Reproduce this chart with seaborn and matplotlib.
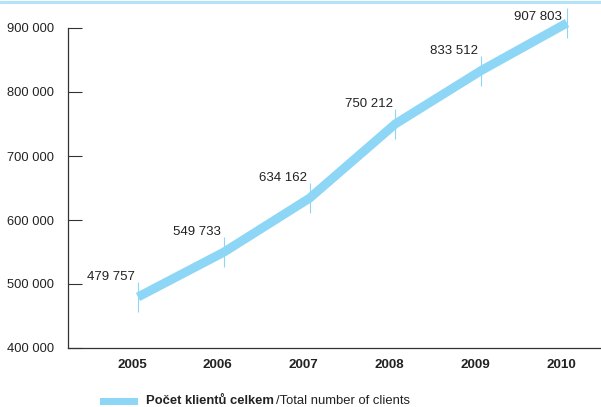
import matplotlib
matplotlib.use("Agg")
import matplotlib.pyplot as plt
import seaborn as sns
import pandas as pd
from matplotlib.lines import Line2D
from matplotlib.patches import Rectangle
from matplotlib.transforms import ScaledTranslation

years = [2005, 2006, 2007, 2008, 2009, 2010]
clients = [479757, 549733, 634162, 750212, 833512, 907803]
labels = ["479 757", "549 733", "634 162", "750 212", "833 512", "907 803"]
yticks = [400000, 500000, 600000, 700000, 800000, 900000]
ytick_labels = ["400 000", "500 000", "600 000", "700 000", "800 000", "900 000"]

blue = "#8dd6f6"
dark = "#333333"
txt = "#222222"
fs = 9.3

sns.set_style("white")
plt.rcParams["font.family"] = ["Liberation Sans", "DejaVu Sans"]

df = pd.DataFrame({"year": years, "clients": clients})

fig = plt.figure(figsize=(6.01, 4.07), dpi=100)
ax = fig.add_axes([68 / 601, 59 / 407, 532 / 601, 320 / 407])

sns.lineplot(data=df, x="year", y="clients", ax=ax, color=blue, linewidth=6.5,
             solid_capstyle="butt", solid_joinstyle="round", clip_on=False)
ax.plot(years, clients, linestyle="none", marker="|", markersize=22,
        markeredgewidth=0.8, color=blue, clip_on=False)

ymax = 900000
for x, y, t in zip(years, clients, labels):
    # the label above the top of the scale is tucked in lower, as in the original
    dy = 10 if y < ymax else 0
    dx = -2 if y < ymax else -4
    ax.annotate(t, (x, y), xytext=(dx, dy), textcoords="offset points",
                ha="right", va="bottom", fontsize=fs + 0.2, color=txt,
                annotation_clip=False)

ax.set_xlim(2004.184, 2010.385)
ax.set_ylim(400000, ymax)
ax.set_xticks(years)
ax.set_xticklabels([str(y) for y in years], fontweight="bold", fontsize=fs + 0.3, color=txt)
ax.set_yticks(yticks)
ax.set_yticklabels(ytick_labels, fontsize=fs, color=txt)
ax.tick_params(axis="y", left=True, direction="in", length=10, width=0.8, color=dark, pad=10)
ax.tick_params(axis="x", bottom=False, length=0, pad=8)
ax.set_xlabel("")
ax.set_ylabel("")

# year labels sit slightly left of the data points
shift = ScaledTranslation(-6 / 100, 0, fig.dpi_scale_trans)
for lab in ax.get_xticklabels():
    lab.set_transform(lab.get_transform() + shift)

for s in ["top", "right"]:
    ax.spines[s].set_visible(False)
for s in ["left", "bottom"]:
    ax.spines[s].set_color(dark)
    ax.spines[s].set_linewidth(0.9)

# top band line
fig.add_artist(Line2D([0, 1], [1 - 1.5 / 407, 1 - 1.5 / 407], color="#b3e3f8",
                      linewidth=2.2, transform=fig.transFigure))

# legend
fig.add_artist(Rectangle((100 / 601, 2 / 407), 38 / 601, 7 / 407,
                         facecolor=blue, edgecolor="none", transform=fig.transFigure))
t1 = fig.text(146 / 601, 3 / 407, "Počet klientů celkem", fontsize=fs + 0.1,
              fontweight="bold", color=txt, va="baseline")
fig.canvas.draw()
bb = t1.get_window_extent()
fig.text(bb.x1 / 601 + 2 / 601, 3 / 407, "/Total number of clients", fontsize=fs + 0.1,
         color=txt, va="baseline")

fig.savefig("out.png", dpi=100)
